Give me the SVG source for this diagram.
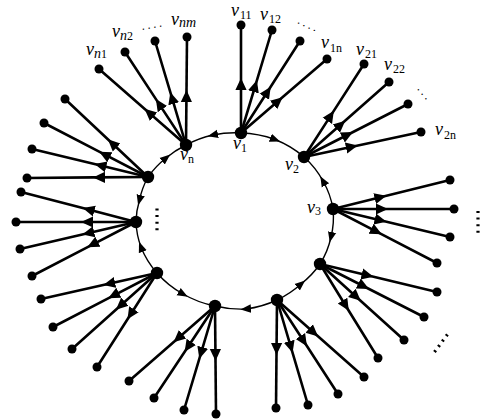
<svg xmlns="http://www.w3.org/2000/svg" width="480" height="419" viewBox="0 0 480 419">
<style>
.spoke{fill:none;stroke:#000;stroke-width:2.6;marker-mid:url(#ah)}
.arc{fill:none;stroke:#000;stroke-width:1.4;marker-mid:url(#aa)}
.hub{fill:#000}
.leaf{fill:#000}
text{font-family:"Liberation Serif","Times New Roman",serif;fill:#000}
.v{font-style:italic;font-size:18px}
.si{font-style:italic;font-size:14px}
.su{font-size:12px}
.sd{font-size:12px;letter-spacing:2.8px}
.dots{fill:none;stroke:#000;stroke-width:3.2;stroke-dasharray:2 4.6}
</style>
<defs>
<marker id="ah" markerUnits="userSpaceOnUse" markerWidth="14" markerHeight="14" viewBox="0 -7 14 14" refX="11" refY="0" orient="auto"><path d="M0,-5.6 L12,0 L0,5.6 z" fill="#000"/></marker>
<marker id="aa" markerUnits="userSpaceOnUse" markerWidth="12" markerHeight="10" viewBox="0 -5 12 10" refX="5" refY="0" orient="auto"><path d="M0,-4.2 L10.5,0 L0,4.2 z" fill="#000"/></marker>
</defs>
<g id="connectors">
<path class="arc" d="M241,133 A98,88 0 0 1 275,139.5 A98,88 0 0 1 304,157"/>
<path class="arc" d="M333,209 A98,88 0 0 0 323,181 A98,88 0 0 0 304,157"/>
<path class="arc" d="M333,209 A98,88 0 0 1 331,237 A98,88 0 0 1 320,264"/>
<path class="arc" d="M277,300 A98,88 0 0 0 301,284 A98,88 0 0 0 320,264"/>
<path class="arc" d="M277,300 A98,88 0 0 1 246,309 A98,88 0 0 1 215,306"/>
<path class="arc" d="M157,273 A98,88 0 0 0 183,294 A98,88 0 0 0 215,306"/>
<path class="arc" d="M157,273 A98,88 0 0 1 141,247 A98,88 0 0 1 136,222"/>
<path class="arc" d="M148,177 A98,88 0 0 0 139.5,200 A98,88 0 0 0 136,222"/>
<path class="arc" d="M148,177 A98,88 0 0 1 166,158 A98,88 0 0 1 186,145"/>
<path class="arc" d="M241,133 A98,88 0 0 0 213,135 A98,88 0 0 0 186,145"/>
<path class="spoke" d="M241,133 L241,79 L241,25"/>
<path class="spoke" d="M241,133 L256.6,81.3 L272,30"/>
<path class="spoke" d="M241,133 L270.2,87.5 L300,41"/>
<path class="spoke" d="M241,133 L281.9,97.8 L327,59"/>
<path class="spoke" d="M304,157 L333.3,111.6 L364,64"/>
<path class="spoke" d="M304,157 L344.5,121.3 L389,82"/>
<path class="spoke" d="M304,157 L352.1,132.5 L408,104"/>
<path class="spoke" d="M304,157 L356.8,145.7 L421,132"/>
<path class="spoke" d="M333,209 L385.4,196 L450,180"/>
<path class="spoke" d="M333,209 L387,209 L454,209"/>
<path class="spoke" d="M333,209 L385.5,221.6 L450,237"/>
<path class="spoke" d="M333,209 L380.9,233.9 L437,263"/>
<path class="spoke" d="M320,264 L372.5,276.6 L437,292"/>
<path class="spoke" d="M320,264 L368.1,288.5 L424,317"/>
<path class="spoke" d="M320,264 L360,300.2 L404,340"/>
<path class="spoke" d="M320,264 L348.3,310 L378,358"/>
<path class="spoke" d="M277,300 L276.5,354 L276,408"/>
<path class="spoke" d="M277,300 L292.3,351.8 L308,405"/>
<path class="spoke" d="M277,300 L306.4,345.3 L338,394"/>
<path class="spoke" d="M277,300 L317.4,335.8 L364,377"/>
<path class="spoke" d="M215,306 L174.3,341.5 L129,381"/>
<path class="spoke" d="M215,306 L185.2,351 L154,398"/>
<path class="spoke" d="M215,306 L199.6,357.8 L184,410"/>
<path class="spoke" d="M215,306 L215.5,360 L216,414"/>
<path class="spoke" d="M157,273 L104.3,284.8 L41,299"/>
<path class="spoke" d="M157,273 L109.1,297.9 L53,327"/>
<path class="spoke" d="M157,273 L116.7,309 L72,349"/>
<path class="spoke" d="M157,273 L128,318.5 L97,367"/>
<path class="spoke" d="M136,222 L83.7,208.3 L21,192"/>
<path class="spoke" d="M136,222 L82,222 L16,222"/>
<path class="spoke" d="M136,222 L83.4,234.3 L20,249"/>
<path class="spoke" d="M136,222 L88.1,246.9 L32,276"/>
<path class="spoke" d="M148,177 L108.6,140 L65,99"/>
<path class="spoke" d="M148,177 L100.1,152.1 L44,123"/>
<path class="spoke" d="M148,177 L95.5,164.3 L32,149"/>
<path class="spoke" d="M148,177 L94,177.4 L27,178"/>
<path class="spoke" d="M186,145 L145.3,109.5 L99,69"/>
<path class="spoke" d="M186,145 L156.4,99.9 L125,52"/>
<path class="spoke" d="M186,145 L170.6,93.2 L155,41"/>
<path class="spoke" d="M186,145 L186.5,91 L187,37"/>
</g>
<g id="v1"><circle class="hub" cx="241" cy="133" r="6.2"/><text x="233" y="149"><tspan class="v">v</tspan><tspan class="su" dy="3">1</tspan></text></g>
<g id="v2"><circle class="hub" cx="304" cy="157" r="6.2"/><text x="285" y="170"><tspan class="v">v</tspan><tspan class="su" dy="3">2</tspan></text></g>
<g id="v3"><circle class="hub" cx="333" cy="209" r="6.2"/><text x="307" y="213"><tspan class="v">v</tspan><tspan class="su" dy="2">3</tspan></text></g>
<g id="h4"><circle class="hub" cx="320" cy="264" r="6.2"/></g>
<g id="h5"><circle class="hub" cx="277" cy="300" r="6.2"/></g>
<g id="h6"><circle class="hub" cx="215" cy="306" r="6.2"/></g>
<g id="h7"><circle class="hub" cx="157" cy="273" r="6.2"/></g>
<g id="h8"><circle class="hub" cx="136" cy="222" r="6.2"/></g>
<g id="h9"><circle class="hub" cx="148" cy="177" r="6.2"/></g>
<g id="vn"><circle class="hub" cx="186" cy="145" r="6.2"/><text x="180" y="160"><tspan class="v">v</tspan><tspan class="su" dy="3">n</tspan></text></g>
<g id="v11"><circle class="leaf" cx="241" cy="25" r="4.5"/><text x="231" y="16"><tspan class="v">v</tspan><tspan class="su" dy="3" dx="1">11</tspan></text></g>
<g id="v12"><circle class="leaf" cx="272" cy="30" r="4.5"/><text x="260" y="20"><tspan class="v">v</tspan><tspan class="su" dy="3" dx="1">12</tspan></text></g>
<g id="v1-3"><circle class="leaf" cx="300" cy="41" r="4.5"/><text class="sd" x="297" y="23" transform="rotate(25 297 23)">....</text></g>
<g id="v1n"><circle class="leaf" cx="327" cy="59" r="4.5"/><text x="321" y="48"><tspan class="v">v</tspan><tspan class="su" dy="4" dx="1">1n</tspan></text></g>
<g id="v21"><circle class="leaf" cx="364" cy="64" r="4.5"/><text x="356" y="55"><tspan class="v">v</tspan><tspan class="su" dy="3" dx="1">21</tspan></text></g>
<g id="v22"><circle class="leaf" cx="389" cy="82" r="4.5"/><text x="384" y="70"><tspan class="v">v</tspan><tspan class="su" dy="3" dx="1">22</tspan></text></g>
<g id="v2-3"><circle class="leaf" cx="408" cy="104" r="4.5"/><text class="sd" x="417" y="89" transform="rotate(50 417 89)">...</text></g>
<g id="v2n"><circle class="leaf" cx="421" cy="132" r="4.5"/><text x="435" y="135"><tspan class="v">v</tspan><tspan class="su" dy="4" dx="1">2n</tspan></text></g>
<g id="v3-1"><circle class="leaf" cx="450" cy="180" r="4.5"/></g>
<g id="v3-2"><circle class="leaf" cx="454" cy="209" r="4.5"/></g>
<g id="v3-3"><circle class="leaf" cx="450" cy="237" r="4.5"/></g>
<g id="v3-4"><circle class="leaf" cx="437" cy="263" r="4.5"/></g>
<g id="h4-1"><circle class="leaf" cx="437" cy="292" r="4.5"/></g>
<g id="h4-2"><circle class="leaf" cx="424" cy="317" r="4.5"/></g>
<g id="h4-3"><circle class="leaf" cx="404" cy="340" r="4.5"/></g>
<g id="h4-4"><circle class="leaf" cx="378" cy="358" r="4.5"/></g>
<g id="h5-1"><circle class="leaf" cx="276" cy="408" r="4.5"/></g>
<g id="h5-2"><circle class="leaf" cx="308" cy="405" r="4.5"/></g>
<g id="h5-3"><circle class="leaf" cx="338" cy="394" r="4.5"/></g>
<g id="h5-4"><circle class="leaf" cx="364" cy="377" r="4.5"/></g>
<g id="h6-1"><circle class="leaf" cx="129" cy="381" r="4.5"/></g>
<g id="h6-2"><circle class="leaf" cx="154" cy="398" r="4.5"/></g>
<g id="h6-3"><circle class="leaf" cx="184" cy="410" r="4.5"/></g>
<g id="h6-4"><circle class="leaf" cx="216" cy="414" r="4.5"/></g>
<g id="h7-1"><circle class="leaf" cx="41" cy="299" r="4.5"/></g>
<g id="h7-2"><circle class="leaf" cx="53" cy="327" r="4.5"/></g>
<g id="h7-3"><circle class="leaf" cx="72" cy="349" r="4.5"/></g>
<g id="h7-4"><circle class="leaf" cx="97" cy="367" r="4.5"/></g>
<g id="h8-1"><circle class="leaf" cx="21" cy="192" r="4.5"/></g>
<g id="h8-2"><circle class="leaf" cx="16" cy="222" r="4.5"/></g>
<g id="h8-3"><circle class="leaf" cx="20" cy="249" r="4.5"/></g>
<g id="h8-4"><circle class="leaf" cx="32" cy="276" r="4.5"/></g>
<g id="h9-1"><circle class="leaf" cx="65" cy="99" r="4.5"/></g>
<g id="h9-2"><circle class="leaf" cx="44" cy="123" r="4.5"/></g>
<g id="h9-3"><circle class="leaf" cx="32" cy="149" r="4.5"/></g>
<g id="h9-4"><circle class="leaf" cx="27" cy="178" r="4.5"/></g>
<g id="vn1"><circle class="leaf" cx="99" cy="69" r="4.5"/><text x="86" y="55"><tspan class="v">v</tspan><tspan class="si" dy="3">n</tspan><tspan class="su">1</tspan></text></g>
<g id="vn2"><circle class="leaf" cx="125" cy="52" r="4.5"/><text x="112" y="37"><tspan class="v">v</tspan><tspan class="si" dy="3">n</tspan><tspan class="su">2</tspan></text></g>
<g id="vn-3"><circle class="leaf" cx="155" cy="41" r="4.5"/><text class="sd" x="142" y="30" transform="rotate(-10 142 30)">....</text></g>
<g id="vnm"><circle class="leaf" cx="187" cy="37" r="4.5"/><text x="171" y="25"><tspan class="v">v</tspan><tspan class="si" dy="2">nm</tspan></text></g>
<g id="ellipses">
<line class="dots" x1="157" y1="208.5" x2="157" y2="231"/>
<line class="dots" x1="478" y1="211" x2="478" y2="234"/>
<line class="dots" x1="434.5" y1="352" x2="450" y2="331"/>
</g>
</svg>
